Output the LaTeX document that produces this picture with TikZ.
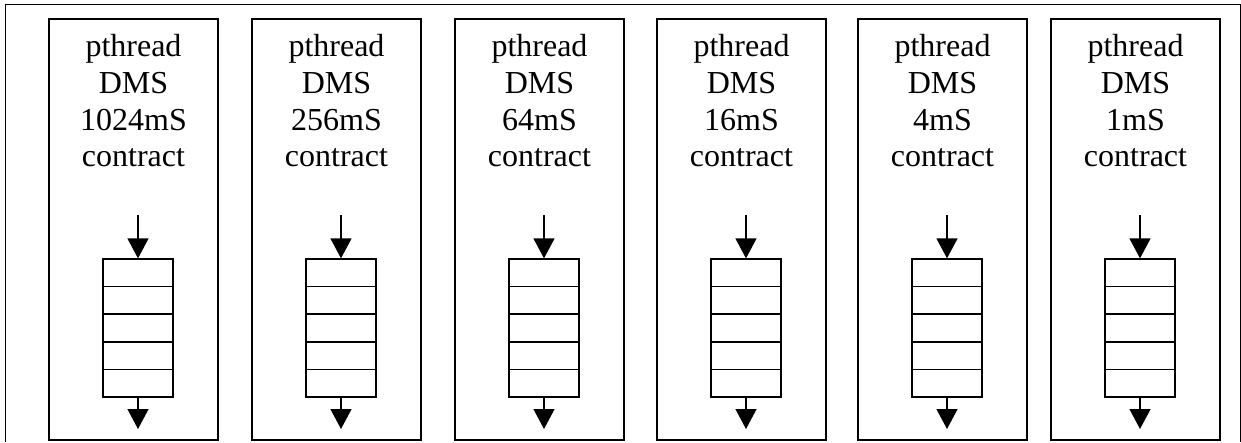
\documentclass[tikz,border=0pt]{standalone}
\usepackage{fontspec}
\setmainfont{Liberation Serif}
\usetikzlibrary{arrows.meta,calc}

\begin{document}
\begin{tikzpicture}[x=1pt, y=-1pt, line width=1.3pt,
  frame/.style={draw=black, line width=0.8pt},
  b/.style={draw, minimum width=169pt, minimum height=421pt, inner sep=0pt},
  lbl/.style={align=center, anchor=north, inner sep=0pt,
              font=\fontsize{32}{36.8}\selectfont},
  q/.style={draw, minimum width=70pt, minimum height=138pt, inner sep=0pt},
  arr/.style={-{Triangle[length=20pt, width=21pt]}}]
\useasboundingbox (0,0) rectangle (1241,442);
% outer frame, open at the bottom
\draw[frame] (5,442) -- (5,4) -- (1240,4) -- (1240,442);
% one thread box per period: label, input arrow, queue, output arrow
\foreach \i/\x/\val in {1/49/1024, 2/252/256, 3/455/64, 4/657/16, 5/858/4, 6/1051/1} {
  \node[b] (box\i) at (\x+84.5, 229.5) {};
  \node[lbl] (txt\i) at (\x+84.5, 33.6) {pthread\\DMS\\\val mS\\contract};
  \node[q] (q\i) at (\x+89, 328) {};
  \foreach \k in {1,...,4}
    \draw ($(q\i.north west)!\k/5!(q\i.south west)$) -- ($(q\i.north east)!\k/5!(q\i.south east)$);
  \coordinate (in\i) at (\x+89, 215);
  \coordinate (out\i) at (\x+89, 429);
  \draw[arr] (in\i) -- (q\i.north);
  \draw[arr] (q\i.south) -- (out\i);
}
\end{tikzpicture}
\end{document}
